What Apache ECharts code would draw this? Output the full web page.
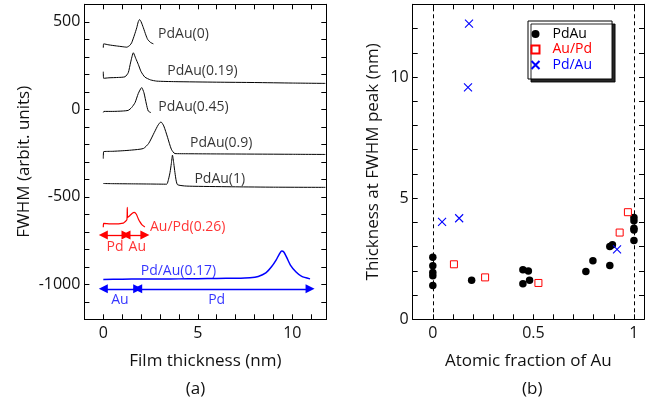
<!DOCTYPE html>
<html><head><meta charset="utf-8">
<script src="https://cdn.jsdelivr.net/npm/echarts@6/dist/echarts.min.js"></script>
<style>html,body{margin:0;padding:0;background:#fff}#c{width:647px;height:402px}</style>
</head><body><div id="c"></div>
<script>
// ---- Panel (a): FWHM vs film thickness (offset curves) ----
const pdau0 = [[0,352],[0.02,374],[0.3,368],[0.7,362],[1.0,358],[1.24,355],[1.4,365],[1.5,380],[1.65,425],[1.77,466],[1.85,500],[1.92,513],[2.0,500],[2.12,466],[2.25,425],[2.35,399],[2.5,382],[2.65,374]];
const pdau019 = [[0,215],[0.02,177],[0.3,180],[0.8,182],[1.15,186],[1.32,209],[1.45,270],[1.59,323],[1.72,290],[1.85,257],[2.0,215],[2.2,184],[2.5,168],[2.83,161],[3.8,158],[6,155],[8,153],[10,150],[11.75,148]];
const pdau045 = [[0,-18],[0.03,-12],[0.5,-12],[1.0,-10],[1.32,-6],[1.5,10],[1.68,38],[1.85,90],[2.03,124],[2.15,95],[2.28,30],[2.38,-10],[2.52,-19]];
const pdau09 = [[0,-282],[0.02,-242],[0.5,-240],[1.0,-237],[1.5,-233],[2.12,-224],[2.4,-195],[2.7,-132],[2.9,-90],[3.05,-72],[3.2,-95],[3.4,-160],[3.6,-228],[3.79,-253],[4.5,-254],[6,-255],[8,-256],[10,-257],[11.75,-258]];
const pdau1 = [[0,-424],[0.5,-425],[1.5,-426],[2.5,-427],[3.35,-428],[3.45,-400],[3.53,-361],[3.6,-310],[3.66,-262],[3.73,-310],[3.79,-361],[3.86,-410],[3.93,-431],[4.3,-438],[4.85,-440],[7,-443],[9,-445],[11.75,-446]];
const auPd026 = [[0,-674],[0.02,-652],[0.5,-655],[1.06,-650],[1.18,-640],[1.25,-630],[1.27,-560],[1.29,-617],[1.4,-608],[1.52,-595],[1.64,-589],[1.75,-600],[1.85,-625],[1.94,-643],[2.05,-660],[2.2,-672]];
const pdAu017 = [[0,-972],[1,-971],[2,-970],[3,-970],[4,-969],[5,-968],[6,-967],[7,-965],[7.76,-962],[8.2,-955],[8.6,-935],[8.9,-900],[9.15,-860],[9.3,-830],[9.44,-810],[9.55,-815],[9.7,-845],[9.9,-890],[10.2,-930],[10.5,-955],[10.94,-969]];
const blackLabels = [[2.9,428,'PdAu(0)'],[3.39,218,'PdAu(0.19)'],[2.91,15,'PdAu(0.45)'],[4.59,-190,'PdAu(0.9)'],[4.82,-399,'PdAu(1)']];
const redLabels = [[2.47,-671,'Au/Pd(0.26)']];
const blueLabels = [[1.98,-922,'Pd/Au(0.17)']];
const redLayerLabels = [[0.62,-789,'Pd'],[1.8,-789,'Au']];
const blueLayerLabels = [[0.88,-1089,'Au'],[6.0,-1089,'Pd']];
const redArrows = [[0,1.2,-718],[1.2,2.2,-718]];
const blueArrows = [[0,1.82,-1026],[1.82,10.94,-1026]];
const leftXTicks = [0,5,10];
const leftYTicks = [-1000,-500,0,500];

// ---- Panel (b): thickness at FWHM peak vs atomic fraction ----
const pdauFrac = [0,0,0,0,0,0.193,0.448,0.475,0.448,0.481,0.761,0.796,0.88,0.88,0.893,1,1,1,1,1];
const pdauThick = [2.56,2.21,1.93,1.80,1.39,1.61,2.04,1.99,1.47,1.61,1.97,2.42,2.22,3.0,3.08,4.2,4.07,3.76,3.69,3.25];
const auPdFrac = [0.105,0.26,0.525,0.929,0.97];
const auPdThick = [2.27,1.73,1.5,3.58,4.42];
const pdAuFrac = [0.046,0.131,0.175,0.18,0.916];
const pdAuThick = [4.02,4.17,9.57,12.2,2.89];
const rightXTicks = [0,0.5,1];
const rightYTicks = [0,5,10];
const guideFractions = [0,1];

const FONT = 'Open Sans';
const RED = '#ff0000', BLUE = '#0000ff';
const zip = (a,b) => a.map((v,i)=>[v,b[i]]);
const near = (v,list) => list.some(t => Math.abs(v-t) < 1e-6);

function boxAxis(type, pos, grid, min, max, interval, ticks, showLabel, name, nameGap) {
  return {
    type:'value', gridIndex:grid, position:pos, min, max, interval,
    axisLine:{show:true, onZero:false, lineStyle:{color:'#000', width:1}},
    axisTick:{show:true, inside:true, length:5, lineStyle:{color:'#000', width:1}},
    splitLine:{show:false},
    axisLabel:{show:showLabel, inside:false, margin:type==='x'?6:4, fontFamily:FONT, fontSize:16, color:'#111',
      formatter: v => near(v,ticks) ? String(Math.round(v*10)/10) : ''},
    name: showLabel ? name : '', nameLocation:'middle', nameGap,
    nameTextStyle:{fontFamily:FONT, fontSize:17, color:'#111'}
  };
}

const xAxis = [
  boxAxis('x','bottom',0,-1,11.8,1,leftXTicks,true,'Film thickness (nm)',33),
  boxAxis('x','top',0,-1,11.8,1,leftXTicks,false,'',0),
  boxAxis('x','bottom',1,-0.1,1.05,0.1,rightXTicks,true,'Atomic fraction of Au',33),
  boxAxis('x','top',1,-0.1,1.05,0.1,rightXTicks,false,'',0)
];
const yAxis = [
  boxAxis('y','left',0,-1200,600,100,leftYTicks,true,'FWHM (arbit. units)',52),
  boxAxis('y','right',0,-1200,600,100,leftYTicks,false,'',0),
  boxAxis('y','left',1,0,13,1,rightYTicks,true,'Thickness at FWHM peak (nm)',31),
  boxAxis('y','right',1,0,13,1,rightYTicks,false,'',0)
];

function curve(data, color, width) {
  return {type:'line', xAxisIndex:0, yAxisIndex:0, data, symbol:'none', smooth:0.2,
    lineStyle:{color, width}, silent:true, animation:false, z:3};
}
function textSeries(items, color, pos) {
  return {type:'scatter', xAxisIndex:0, yAxisIndex:0, symbolSize:0, silent:true, animation:false,
    data: items.map(d => ({value:[d[0],d[1]], name:d[2]})),
    label:{show:true, position:pos, distance:0, formatter:p=>p.name, fontFamily:FONT, fontSize:14, color}};
}
function arrowSeries(segs, color) {
  return {type:'line', xAxisIndex:0, yAxisIndex:0, data:[], silent:true, animation:false,
    markLine:{silent:true, animation:false, symbol:['triangle','triangle'], symbolSize:9, label:{show:false},
      lineStyle:{color, width:1.3, type:'solid'},
      data: segs.map(s => [{coord:[s[0],s[2]]},{coord:[s[1],s[2]]}])}};
}

const option = {
  animation:false,
  backgroundColor:'#fff',
  grid:[
    {left:84.4, top:4.3, width:241.9, height:315, containLabel:false},
    {left:412.7, top:4.3, width:232.6, height:315, containLabel:false}
  ],
  xAxis, yAxis,
  legend:{
    orient:'vertical', left:528, top:21, padding:[6,20,7,1], itemGap:1.5, itemWidth:24, itemHeight:8,
    symbolKeepAspect:true,
    backgroundColor:'#fff', borderColor:'#000', borderWidth:1,
    shadowColor:'rgba(0,0,0,0.85)', shadowOffsetX:3, shadowOffsetY:3, shadowBlur:0,
    textStyle:{fontFamily:FONT, fontSize:14},
    data:[
      {name:'PdAu', textStyle:{color:'#000'}},
      {name:'Au/Pd', textStyle:{color:RED}},
      {name:'Pd/Au', textStyle:{color:BLUE}}
    ]
  },
  graphic:[
    {type:'text', left:196.7-11, top:381, style:{text:'(a)', font:'17px "Open Sans"', fill:'#111'}},
    {type:'text', left:533-11, top:381, style:{text:'(b)', font:'17px "Open Sans"', fill:'#111'}}
  ],
  series:[
    curve(pdau0,'#000',1), curve(pdau019,'#000',1), curve(pdau045,'#000',1),
    curve(pdau09,'#000',1), curve(pdau1,'#000',1),
    curve(auPd026,RED,1.2), curve(pdAu017,BLUE,1.5),
    textSeries(blackLabels,'#000','right'), textSeries(redLabels,RED,'right'), textSeries(blueLabels,BLUE,'right'),
    textSeries(redLayerLabels,RED,'inside'), textSeries(blueLayerLabels,BLUE,'inside'),
    arrowSeries(redArrows,RED), arrowSeries(blueArrows,BLUE),
    {name:'PdAu', type:'scatter', xAxisIndex:2, yAxisIndex:2, data:zip(pdauFrac,pdauThick),
      symbol:'circle', symbolSize:7.5, itemStyle:{color:'#000', opacity:1}, z:4,
      markLine:{silent:true, symbol:'none', label:{show:false}, animation:false,
        lineStyle:{color:'#000', width:1, type:[4,3]}, data: guideFractions.map(v=>({xAxis:v}))}},
    {name:'Au/Pd', type:'scatter', xAxisIndex:2, yAxisIndex:2, data:zip(auPdFrac,auPdThick),
      symbol:'path://M0,0H10V10H0Z', symbolSize:7, symbolKeepAspect:true,
      itemStyle:{color:'#fff', borderColor:RED, borderWidth:1, opacity:1}, z:5},
    {name:'Pd/Au', type:'scatter', xAxisIndex:2, yAxisIndex:2, data:zip(pdAuFrac,pdAuThick),
      symbol:'path://M0,0L10,10M10,0L0,10', symbolSize:8, symbolKeepAspect:true,
      itemStyle:{color:'none', borderColor:BLUE, borderWidth:1.1, opacity:1}, z:5}
  ]
};
const chart = echarts.init(document.getElementById('c'), null, {renderer:'canvas'});
chart.setOption(option);
</script></body></html>
